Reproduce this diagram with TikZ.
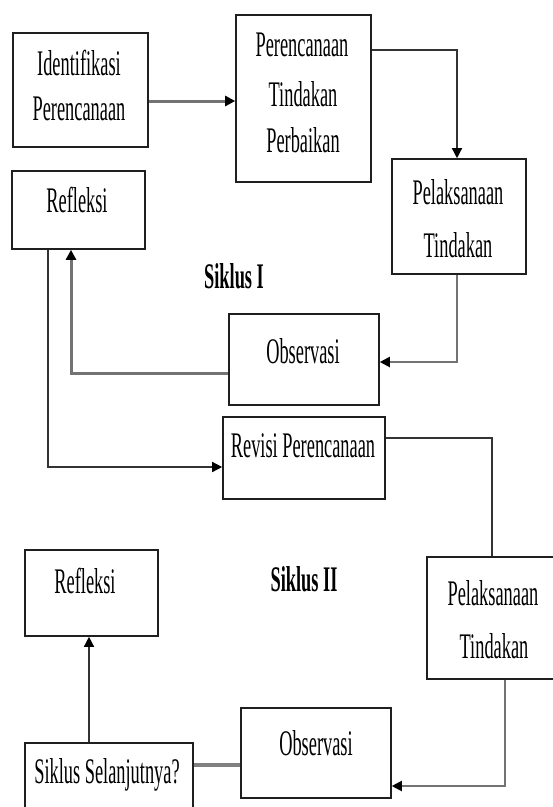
\documentclass[tikz,border=0pt]{standalone}
\usepackage{fontspec}
\setmainfont{Liberation Serif}[FakeStretch=0.51]
\usetikzlibrary{arrows.meta}
\tikzset{
  box/.style={draw=black!88, line width=1.6pt, rectangle, inner sep=0pt},
  txt/.style={anchor=base, inner sep=0pt, font=\fontsize{36}{42}\selectfont},
  ttl/.style={anchor=base, inner sep=0pt, font=\fontsize{36}{42}\selectfont\bfseries},
  tip/.style={-{Triangle[length=10pt,width=10pt,color=black]}},
  thinline/.style={draw=black!80, line width=1.4pt},
  grayline/.style={draw=black!55, line width=2pt},
  thickgray/.style={draw=black!55, line width=3pt},
  heavygray/.style={draw=black!50, line width=4pt},
}
\begin{document}
\begin{tikzpicture}[x=1pt,y=-1pt]
\useasboundingbox (0,0) rectangle (553,807);
% boxes
\node[box, minimum width=135pt, minimum height=114pt] (b1) at (80.5,90) {};
\node[box, minimum width=135pt, minimum height=167pt] (b2) at (303.5,98.5) {};
\node[box, minimum width=134pt, minimum height=115pt] (b3) at (459,216.5) {};
\node[box, minimum width=133pt, minimum height=78pt] (r1) at (78.5,210) {};
\node[box, minimum width=150pt, minimum height=91pt] (o1) at (304,359.5) {};
\node[box, minimum width=162pt, minimum height=82pt] (rev) at (304,458) {};
\node[box, minimum width=138pt, minimum height=122pt] (p2) at (496,618) {};
\node[box, minimum width=133pt, minimum height=86pt] (r2) at (91.5,593) {};
\node[box, minimum width=168pt, minimum height=77pt] (sel) at (109,781.5) {};
\node[box, minimum width=150pt, minimum height=90pt] (o2) at (316,753) {};
% texts
\node[txt] (t1a) at (79,75) {Identifikasi};
\node[txt] (t1b) at (79,120) {Perencanaan};
\node[txt] (t2a) at (302,56) {Perencanaan};
\node[txt] (t2b) at (303,106) {Tindakan};
\node[txt] (t2c) at (303,152) {Perbaikan};
\node[txt] (t3a) at (458,204) {Pelaksanaan};
\node[txt] (t3b) at (458,257) {Tindakan};
\node[txt] (tr1) at (77,212) {Refleksi};
\node[ttl] (s1) at (234,288) {Siklus I};
\node[txt] (to1) at (303,363) {Observasi};
\node[txt] (trev) at (303,457) {Revisi Perencanaan};
\node[ttl] (s2) at (304,591) {Siklus II};
\node[txt] (tp2a) at (493,605) {Pelaksanaan};
\node[txt] (tp2b) at (494,658) {Tindakan};
\node[txt] (tr2) at (85,593) {Refleksi};
\node[txt] (to2) at (316,755) {Observasi};
\node[txt] (tsel) at (107,783) {Siklus Selanjutnya?};
% connectors
\draw[thickgray, tip] (b1.east |- 0,101) -- (b2.west |- 0,101);
\draw[thinline, tip] (b2.east |- 0,50) -| (457,0 |- b3.north);
\draw[grayline, tip] (457,0 |- b3.south) |- (o1.east |- 0,362);
\draw[thickgray, tip] (o1.west |- 0,373) -| (71,0 |- r1.south);
\draw[thinline, tip] (48,0 |- r1.south) |- (rev.west |- 0,467);
\draw[thinline] (rev.east |- 0,438) -| (492,0 |- p2.north);
\draw[grayline, tip] (505,0 |- p2.south) |- (o2.east |- 0,786);
\draw[heavygray] (o2.west |- 0,765) -- (sel.east |- 0,765);
\draw[thinline, tip] (89,0 |- sel.north) -- (89,0 |- r2.south);
\end{tikzpicture}
\end{document}
